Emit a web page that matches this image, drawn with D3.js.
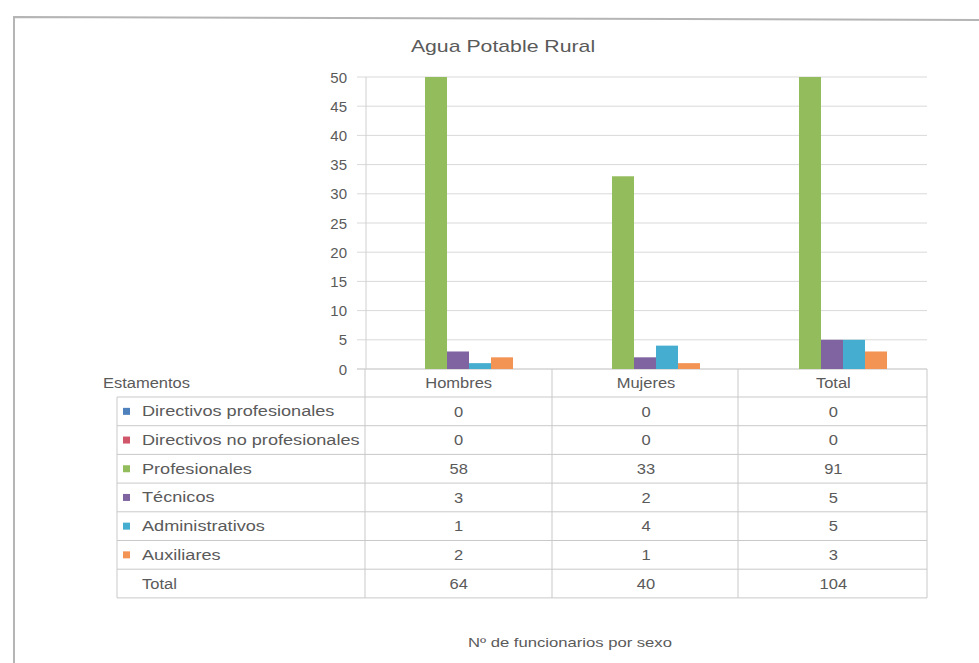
<!DOCTYPE html>
<html><head><meta charset="utf-8">
<script src="https://cdn.jsdelivr.net/npm/d3@7/dist/d3.min.js"></script>
<style>
html,body{margin:0;padding:0;background:#fff;}
svg text{font-family:"Liberation Sans",Arial,sans-serif;}
</style></head>
<body><svg id="c" width="979" height="663"></svg>
<script>
const title = "Agua Potable Rural";
const categories = ["Hombres", "Mujeres", "Total"];
const series = ["Directivos profesionales", "Directivos no profesionales", "Profesionales", "Técnicos", "Administrativos", "Auxiliares"];
const dirProf = [0, 0, 0];
const dirNoProf = [0, 0, 0];
const profesionales = [58, 33, 91];
const tecnicos = [3, 2, 5];
const administrativos = [1, 4, 5];
const auxiliares = [2, 1, 3];
const totals = [64, 40, 104];
const yTicks = [0, 5, 10, 15, 20, 25, 30, 35, 40, 45, 50];
const colors = ["#4F81BD", "#D0566A", "#93BC5C", "#8064A2", "#45ADCF", "#F39455"];
const tableHeader = "Estamentos";
const totalLabel = "Total";
const footer = "Nº de funcionarios por sexo";

const values = [dirProf, dirNoProf, profesionales, tecnicos, administrativos, auxiliares];

const svg = d3.select("#c");
svg.append("rect").attr("width",979).attr("height",663).attr("fill","#fff");
// outer frame
svg.append("path").attr("d","M14,663 L14,17 L979,20").attr("fill","none").attr("stroke","#b5b5b5").attr("stroke-width",2);

function txt(g, x, y, s, size, anchor, sx, fill){
  return g.append("text").attr("transform",`translate(${x},${y}) scale(${sx},1)`)
    .attr("text-anchor",anchor).attr("dominant-baseline","central")
    .attr("font-size",size).attr("fill",fill||"#5a5a5a").text(s);
}

const plotTop = 77, plotBottom = 369;
const y = d3.scaleLinear().domain([0,50]).range([plotBottom, plotTop]).clamp(true);
const x0 = d3.scaleBand().domain(categories).range([353.5, 914.5]).padding(0);
const x1 = d3.scaleBand().domain(series).range([0, x0.bandwidth()]).paddingInner(0).paddingOuter(1.25);
const tableX = d3.scaleBand().domain(categories).range([365, 927]).padding(0);

// gridlines
svg.append("g").selectAll("line").data(yTicks).join("line")
  .attr("x1",357).attr("x2",927).attr("y1",d=>y(d)).attr("y2",d=>y(d))
  .attr("stroke",d=>d===0?"#bdbdbd":"#d9d9d9").attr("stroke-width",1);
svg.append("line").attr("x1",366).attr("x2",366).attr("y1",plotTop).attr("y2",plotBottom).attr("stroke","#d0d0d0");

// y tick labels
const gy = svg.append("g");
yTicks.forEach(t=>txt(gy, 347, y(t), String(t), 15, "end", 1.0, "#5a5a5a"));

// title
txt(svg, 503, 46, title, 17, "middle", 1.25, "#5a5a5a");

// bars
const gb = svg.append("g");
categories.forEach((c,ci)=>{
  series.forEach((s,si)=>{
    const v = values[si][ci];
    gb.append("rect").attr("x", x0(c)+x1(s)).attr("width", x1.bandwidth())
      .attr("y", y(v)).attr("height", plotBottom - y(v)).attr("fill", colors[si]);
  });
});

// table
const rowH = 28.7, tableTop = 397, tableLeft = 117;
const nRows = series.length + 1;
const gt = svg.append("g");
const lineC = "#c9c9c9";
for(let i=0;i<=nRows;i++){
  gt.append("line").attr("x1",tableLeft).attr("x2",927).attr("y1",tableTop+i*rowH).attr("y2",tableTop+i*rowH).attr("stroke",lineC);
}
gt.append("line").attr("x1",tableLeft).attr("x2",tableLeft).attr("y1",tableTop).attr("y2",tableTop+nRows*rowH).attr("stroke",lineC);
[365,552,738,927].forEach(xx=>gt.append("line").attr("x1",xx).attr("x2",xx).attr("y1",plotBottom).attr("y2",tableTop+nRows*rowH).attr("stroke",lineC));

txt(gt, 103, 383, tableHeader, 15, "start", 1.1);
categories.forEach(c=>txt(gt, tableX(c)+tableX.bandwidth()/2, 383, c, 15, "middle", 1.1));
series.forEach((s,si)=>{
  const cy = tableTop + si*rowH + rowH/2;
  gt.append("rect").attr("x",123).attr("y",cy-3.5).attr("width",7).attr("height",7).attr("fill",colors[si]);
  txt(gt, 142, cy, s, 15, "start", 1.21);
  categories.forEach((c,ci)=>txt(gt, tableX(c)+tableX.bandwidth()/2, cy, String(values[si][ci]), 15, "middle", 1.1));
});
{
  const cy = tableTop + series.length*rowH + rowH/2;
  txt(gt, 142, cy, totalLabel, 15, "start", 1.1);
  categories.forEach((c,ci)=>txt(gt, tableX(c)+tableX.bandwidth()/2, cy, String(totals[ci]), 15, "middle", 1.1));
}

// footer
txt(svg, 570, 642, footer, 13, "middle", 1.28);
</script></body></html>
